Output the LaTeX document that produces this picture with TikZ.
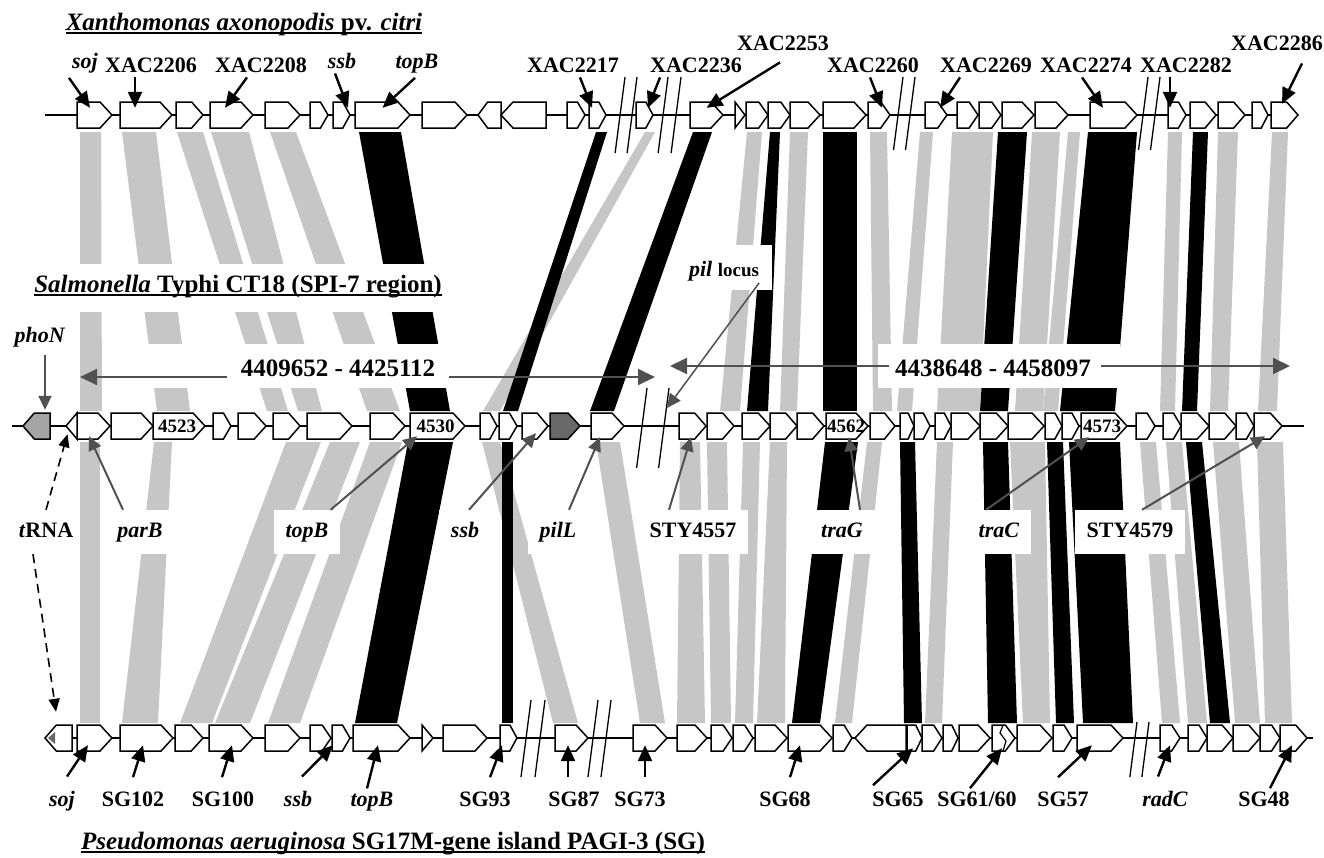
\documentclass[tikz,border=0pt]{standalone}
\usepackage{fontspec}
\setmainfont{Liberation Serif}
\usetikzlibrary{arrows.meta}
\definecolor{BandGray}{RGB}{198,198,198}
\definecolor{ArrowGray}{RGB}{80,80,80}
\definecolor{PhoNGray}{RGB}{165,165,165}
\definecolor{PilGray}{RGB}{105,105,105}

% genes: a named box plus the arrow outline, row height taken from \gy
\newcommand{\fgene}[4][]{%
  \pgfmathsetmacro{\gtip}{min(12,0.42*(#4-#3))}%
  \node[gbox,minimum width={(#4-#3)*1pt}] (#2) at ({(#3+#4)/2},\gy) {};%
  \filldraw[gene,#1] (#3,\gy-13) -- (#4-\gtip,\gy-13) -- (#4,\gy) -- (#4-\gtip,\gy+13) -- (#3,\gy+13) -- cycle;}
\newcommand{\rgene}[4][]{%
  \pgfmathsetmacro{\gtip}{min(12,0.42*(#4-#3))}%
  \node[gbox,minimum width={(#4-#3)*1pt}] (#2) at ({(#3+#4)/2},\gy) {};%
  \filldraw[gene,#1] (#4,\gy-13) -- (#3+\gtip,\gy-13) -- (#3,\gy) -- (#3+\gtip,\gy+13) -- (#4,\gy+13) -- cycle;}
\newcommand{\tgene}[3]{%
  \node[gbox,minimum width={(#3-#2)*1pt}] (#1) at ({(#2+#3)/2},\gy) {};%
  \filldraw[gene] (#2,\gy-13) -- (#3,\gy) -- (#2,\gy+13) -- cycle;}
\newcommand{\rtgene}[3]{%
  \node[gbox,minimum width={(#3-#2)*1pt}] (#1) at ({(#2+#3)/2},\gy) {};%
  \filldraw[gene] (#3,\gy-13) -- (#2,\gy) -- (#3,\gy+13) -- cycle;}
% homology bands
\newcommand{\bandup}[5]{\fill[#1] (#2,132) -- (#3,132) -- (#5,411) -- (#4,411) -- cycle;}
\newcommand{\bandlo}[5]{\fill[#1] (#2,442) -- (#3,442) -- (#5,723) -- (#4,723) -- cycle;}

\begin{document}
\begin{tikzpicture}[x=1pt,y=-1pt,
  gene/.style={draw=black,fill=white,line width=1.5pt,line join=miter},
  gbox/.style={inner sep=0pt,minimum height=26pt},
  lab/.style={font=\fontsize{22}{26}\selectfont\bfseries,inner sep=2pt,anchor=base},
  mlab/.style={font=\fontsize{22}{26}\selectfont\bfseries,fill=white,text height=15pt,text depth=5pt,inner xsep=12pt,inner ysep=12pt},
  num/.style={font=\fontsize{19}{20}\selectfont\bfseries,inner sep=0pt},
  big/.style={font=\fontsize{25}{30}\selectfont\bfseries,inner xsep=14pt,anchor=base},
  ttl/.style={font=\fontsize{25}{30}\selectfont\bfseries,inner sep=0pt,anchor=base},
  blk/.style={line width=2.4pt,-{Triangle[length=16pt,width=14pt]}},
  gry/.style={color=ArrowGray,line width=2pt,-{Triangle[length=14pt,width=13pt]}},
  dsh/.style={line width=1.6pt,dash pattern=on 9pt off 6pt,-{Triangle[length=13pt,width=11pt]}},
  brk/.style={line width=1.3pt}]
\useasboundingbox (0,0) rectangle (1324,857);

\foreach \ta/\tb/\ba/\bb in {80/101/80/102,122/156/157/190,177/203/267/288,211/249/298/322,270/296/367/400,645/655/483/500,747/762/720/740,790/808/780/797,870/887/873/892,920/933/897/912,952/993/937/980,1032/1060/1015/1043,1068/1080/1043/1058,1168/1182/1160/1175,1218/1238/1210/1228,1272/1288/1258/1277}
  {\bandup{BandGray}{\ta}{\tb}{\ba}{\bb}}
\foreach \ta/\tb/\ba/\bb in {359/401/410/450,596/607/503/518,693/712/590/614,770/780/747/768,823/857/823/857,998/1027/980/1008,1088/1137/1060/1115,1193/1208/1182/1197}
  {\bandup{black}{\ta}{\tb}{\ba}{\bb}}
\foreach \ta/\tb/\ba/\bb in {80/100/80/100,154/172/122/158,286/321/180/212,330/360/215/250,370/402/268/300,482/500/553/578,596/620/640/665,680/700/677/705,707/727/711/731,743/760/735/753,770/787/757/785,867/882/835/852,937/953/925/942,1010/1045/1023/1050,1140/1156/1162/1180,1166/1182/1188/1207,1213/1239/1235/1260,1257/1283/1265/1292}
  {\bandlo{BandGray}{\ta}{\tb}{\ba}{\bb}}
\foreach \ta/\tb/\ba/\bb in {408/453/355/397,502/513/502/513,825/858/792/820,900/915/904/922,983/1008/988/1017,1047/1063/1056/1074,1069/1120/1083/1133,1186/1202/1210/1230}
  {\bandlo{black}{\ta}{\tb}{\ba}{\bb}}

% blank areas behind the texts
\fill[white] (18,264) rectangle (460,312);
\fill[white] (682,245) rectangle (772,290);
\fill[white] (105,344) rectangle (456,388);
\fill[white] (878,344) rectangle (1120,388);

% backbones and breaks
\draw[line width=1.5pt] (45,115) -- (1298,115);
\draw[line width=1.5pt] (12,426) -- (1304,426);
\draw[line width=1.5pt] (45,738) -- (1313,738);
\foreach \x/\y/\l in {625/77/153,637/77/153,668/77/153,681/77/153,903/77/150,915/77/150,1148/77/150,1160/77/150,647/388/468,669/388/468,531/700/777,545/700/777,598/700/777,611/700/777,1137/722/777,1149/722/777}
  \draw[brk] (\x,\y) -- ({\x-0.13*(\l-\y)},\l);

% Xanthomonas row
\def\gy{115}
\foreach \a/\b [count=\i] in {77/112,120/172,176/203,210/253,265/300,310/328,333/350,355/410,422/467,567/585,589/606,636/653,690/723,746/768,768/790,790/820,823/866,868/890,925/947,957/978,979/1001,1002/1034,1035/1068,1090/1137,1168/1186,1190/1216,1218/1245,1252/1268,1271/1298}
  {\fgene{t\i}{\a}{\b}}
\rgene{tr1}{478}{501}
\rgene{tr2}{501}{546}
\tgene{ttri}{735}{745}

% Salmonella row
\def\gy{426}
\foreach \a/\b [count=\i] in {77/110,111/153,153/205,213/231,238/266,273/300,307/352,370/405,410/465,480/497,499/517,522/548,591/624,679/706,707/734,742/770,770/797,797/824,826/868,870/895,900/914,914/930,935/951,951/980,980/1008,1008/1044,1045/1062,1062/1079,1081/1127,1136/1155,1163/1181,1181/1209,1209/1236,1236/1254,1254/1282}
  {\fgene{m\i}{\a}{\b}}
\rgene[fill=PhoNGray]{mpho}{23}{50}
\rtgene{mtr}{66}{77}
\fgene[fill=PilGray]{mdk}{550}{580}
\node[num] (n4523) at ([xshift=-2pt]m3.center) {4523};
\node[num] (n4530) at ([xshift=-2pt]m9.center) {4530};
\node[num] (n4562) at ([xshift=-1pt]m19.center) {4562};
\node[num] (n4573) at ([xshift=-2pt]m29.center) {4573};

% Pseudomonas row
\def\gy{738}
\foreach \a/\b [count=\i] in {77/112,120/173,175/203,209/253,265/300,310/331,332/350,353/410,443/487,500/517,555/588,633/667,677/707,711/732,733/753,755/787,788/832,833/852,907/922,922/942,943/958,959/990,992/1015,1017/1052,1053/1072,1077/1123,1160/1180,1188/1207,1207/1233,1233/1260,1260/1280,1280/1307}
  {\fgene{b\i}{\a}{\b}}
\tgene{btri}{422}{433}
\rgene{brev}{855}{906}
\rgene{bt0}{45}{72}
\fill[PilGray] (48,738) -- (55,732) -- (55,744) -- cycle;
\draw[line width=1.2pt] (1003,725) -- (1000,733) -- (1006,741) -- (1003,751);

% titles
\node[ttl] (tXac) at (244,30) {\textit{Xanthomonas axonopodis} pv. \textit{citri}};
\node[ttl] (tSal) at (238,292) {\textit{Salmonella} Typhi CT18 (SPI-7 region)};
\node[ttl] (tPse) at (393,849) {\textit{Pseudomonas aeruginosa} SG17M-gene island PAGI-3 (SG)};
\foreach \n in {tXac,tSal,tPse}
  \draw[line width=1.6pt] ([yshift=-3pt]\n.base west) -- ([yshift=-3pt]\n.base east);

% top labels
\node[lab] (lsoj) at (85,68) {\textit{soj}};
\node[lab] (l2206) at (151,72) {XAC2206};
\node[lab] (l2208) at (261,72) {XAC2208};
\node[lab] (lssbT) at (342,68) {\textit{ssb}};
\node[lab] (ltopT) at (417,68) {\textit{topB}};
\node[lab] (l2217) at (573,72) {XAC2217};
\node[lab] (l2236) at (696,72) {XAC2236};
\node[lab] (l2253) at (783,50) {XAC2253};
\node[lab] (l2260) at (873,72) {XAC2260};
\node[lab] (l2269) at (986,72) {XAC2269};
\node[lab] (l2274) at (1086,72) {XAC2274};
\node[lab] (l2282) at (1186,72) {XAC2282};
\node[lab] (l2286) at (1277,50) {XAC2286};
\draw[blk] ([xshift=-16pt,yshift=-3pt]lsoj.south) -- ([xshift=-4.5pt,yshift=-6pt]t1.north);
\draw[blk] ([xshift=-16pt,yshift=-3pt]l2206.south) -- ([xshift=-11pt,yshift=-6pt]t2.north);
\draw[blk] ([xshift=-14pt,yshift=-3pt]l2208.south) -- ([xshift=-6.5pt,yshift=-6pt]t4.north);
\draw[blk] ([xshift=-7pt,yshift=-3pt]lssbT.south) -- ([xshift=6.5pt,yshift=-6pt]t7.north);
\draw[blk] ([xshift=-2pt,yshift=-3pt]ltopT.south) -- ([yshift=-6pt]t8.north);
\draw[blk] ([xshift=7pt,yshift=-3pt]l2217.south) -- ([xshift=-5.5pt,yshift=-6pt]t11.north);
\draw[blk] ([xshift=-36pt,yshift=-3pt]l2236.south) -- ([xshift=3.5pt,yshift=-6pt]t12.north);
\draw[blk] ([xshift=-3pt,yshift=-10pt]l2253.south) -- ([yshift=-6pt]t13.north);
\draw[blk] ([xshift=-3pt,yshift=-3pt]l2260.south) -- ([xshift=3pt,yshift=-6pt]t18.north);
\draw[blk] ([xshift=-26pt,yshift=-3pt]l2269.south) -- ([xshift=4pt,yshift=-6pt]t19.north);
\draw[blk] ([xshift=-4pt,yshift=-3pt]l2274.south) -- ([xshift=-10.5pt,yshift=-6pt]t24.north);
\draw[blk] ([xshift=-16pt,yshift=-3pt]l2282.south) -- ([xshift=-7pt,yshift=-6pt]t25.north);
\draw[blk] ([xshift=25pt,yshift=-11pt]l2286.south) -- ([xshift=-2.5pt,yshift=-2pt]t29.north);

% Salmonella labels
\node[lab] (lphoN) at (40,342) {\textit{phoN}};
\draw[gry] ([xshift=5pt,yshift=-6pt]lphoN.south) -- ([xshift=8.5pt,yshift=3pt]mpho.north);
\node[big] (rng1) at (338,376) {4409652 - 4425112};
\coordinate (rng1a) at (80,377);
\coordinate (rng1b) at (655,377);
\draw[gry,-{Triangle[length=17pt,width=16pt]}] (rng1.west |- rng1a) -- (rng1a);
\draw[gry,-{Triangle[length=17pt,width=16pt]}] (rng1.east |- rng1b) -- (rng1b);
\node[big,inner xsep=6pt] (rng2) at (993,376) {4438648 - 4458097};
\coordinate (rng2a) at (670,366);
\coordinate (rng2b) at (1290,366);
\draw[gry,-{Triangle[length=17pt,width=16pt]}] (rng2.west |- rng2a) -- (rng2a);
\draw[gry,-{Triangle[length=17pt,width=16pt]}] ([xshift=4pt]rng2.east |- rng2b) -- (rng2b);
\node[lab] (lpil) at (724,276) {\textit{pil} {\fontsize{19}{20}\selectfont locus}};
\coordinate (pilpt) at (667,408);
\draw[gry,line width=1.5pt] ([xshift=-2pt]lpil.south east) -- (pilpt);

% middle labels
\node[mlab,fill=none] (ltrna) at (46,532) {\textit{t}RNA};
\node[mlab] (lparB) at (140,532) {\textit{parB}};
\node[mlab] (ltopM) at (307,532) {\textit{topB}};
\node[mlab] (lssbM) at (465,532) {\textit{ssb}};
\node[mlab] (lpilL) at (558,532) {\textit{pilL}};
\node[mlab] (l4557) at (693,532) {STY4557};
\node[mlab] (ltraG) at (842,532) {\textit{traG}};
\node[mlab] (ltraC) at (999,532) {\textit{traC}};
\node[mlab] (l4579) at (1130,532) {STY4579};
\draw[dsh] (ltrna.north) -- ([xshift=-4pt,yshift=5pt]mtr.south);
\draw[dsh] ([xshift=-13pt]ltrna.south) -- ([xshift=-2.5pt,yshift=13pt]bt0.north);
\draw[gry] ([xshift=-17pt]lparB.north) -- ([xshift=-4.5pt,yshift=3pt]m1.south);
\draw[gry] ([xshift=-10pt]ltopM.north east) -- ([xshift=-20.5pt,yshift=3pt]m9.south);
\draw[gry] ([xshift=4pt]lssbM.north) -- ([xshift=1pt,yshift=6pt]m12.south);
\draw[gry] ([xshift=11pt]lpilL.north) -- ([xshift=-7.5pt,yshift=2pt]m13.south);
\draw[gry] ([xshift=-24pt]l4557.north) -- ([xshift=-1.5pt,yshift=2pt]m14.south);
\draw[gry] ([xshift=18pt]ltraG.north) -- ([xshift=2pt,yshift=2pt]m19.south);
\draw[gry] ([xshift=-13pt]ltraC.north) -- ([xshift=-15pt,yshift=2pt]m29.south);
\draw[gry] ([xshift=12pt]l4579.north) -- ([xshift=-3pt,yshift=3pt]m35.south);

% Pseudomonas labels
\node[lab] (lbsoj) at (62,806) {\textit{soj}};
\node[lab] (lb102) at (133,806) {SG102};
\node[lab] (lb100) at (223,806) {SG100};
\node[lab] (lbssb) at (298,806) {\textit{ssb}};
\node[lab] (lbtop) at (372,806) {\textit{topB}};
\node[lab] (lb93) at (485,806) {SG93};
\node[lab] (lb87) at (574,806) {SG87};
\node[lab] (lb73) at (640,806) {SG73};
\node[lab] (lb68) at (785,806) {SG68};
\node[lab] (lb65) at (898,806) {SG65};
\node[lab] (lb6160) at (977,806) {SG61/60};
\node[lab] (lb57) at (1063,806) {SG57};
\node[lab] (lbradC) at (1165,806) {\textit{radC}};
\node[lab] (lb48) at (1264,806) {SG48};
\draw[blk] ([xshift=5pt,yshift=12pt]lbsoj.north) -- ([xshift=-6.5pt,yshift=6pt]b1.south);
\draw[blk] ([yshift=12pt]lb102.north) -- ([xshift=-3.5pt,yshift=6pt]b2.south);
\draw[blk] ([xshift=-1pt,yshift=12pt]lb100.north) -- ([xshift=1pt,yshift=6pt]b4.south);
\draw[blk] ([xshift=4pt,yshift=12pt]lbssb.north) -- ([xshift=-8pt,yshift=6pt]b7.south);
\draw[blk] ([xshift=-5pt,yshift=1pt]lbtop.north) -- ([xshift=-3.5pt,yshift=6pt]b8.south);
\draw[blk] ([xshift=5pt,yshift=12pt]lb93.north) -- ([xshift=-6.5pt,yshift=6pt]b10.south);
\draw[blk] ([xshift=-6pt,yshift=12pt]lb87.north) -- ([xshift=-3.5pt,yshift=6pt]b11.south);
\draw[blk] ([xshift=5pt,yshift=12pt]lb73.north) -- ([xshift=-5pt,yshift=6pt]b12.south);
\draw[blk] ([xshift=5pt,yshift=12pt]lb68.north) -- ([xshift=-10pt,yshift=6pt]b17.south);
\draw[blk] ([xshift=-25pt,yshift=4pt]lb65.north) -- ([xshift=-1.5pt,yshift=3pt]b19.south);
\draw[blk] ([xshift=-7pt,yshift=1pt]lb6160.north) -- ([xshift=-1.5pt,yshift=3pt]b23.south);
\draw[blk] ([xshift=-5pt,yshift=12pt]lb57.north) -- ([xshift=-8pt,yshift=6pt]b26.south);
\draw[blk] ([xshift=-7pt,yshift=12pt]lbradC.north) -- ([yshift=6pt]b27.south);
\draw[blk] ([xshift=6pt,yshift=1pt]lb48.north) -- ([xshift=-1.5pt,yshift=6pt]b32.south);
\end{tikzpicture}
\end{document}
